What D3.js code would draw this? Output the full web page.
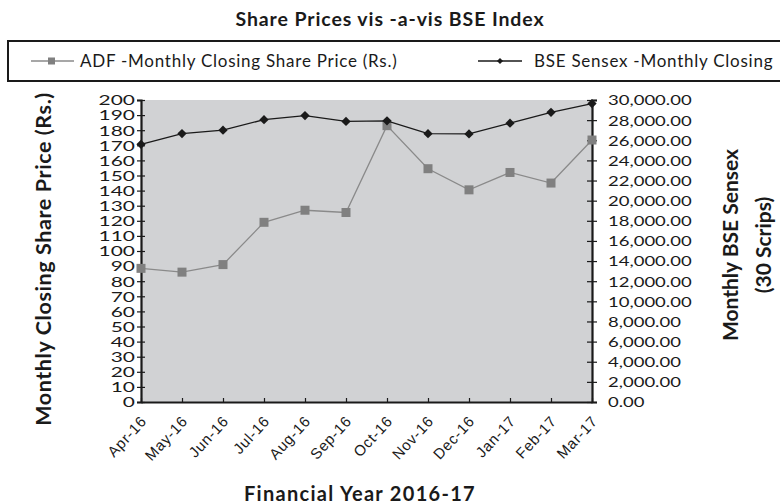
<!DOCTYPE html>
<html>
    <head>
        <meta charset="utf-8">
        <title>Share Prices vis-a-vis BSE Index</title>
        <style type="text/css">
            body {
                margin: 0;
                background-color: #ffffff;
            }

            svg {
                display: block;
            }

            .title, .axis-title {
                font-family: Lato, "Open Sans", sans-serif;
                font-weight: 700;
                fill: #1a1a1a;
            }

            .legend text {
                font-family: Lato, "Open Sans", sans-serif;
                font-size: 17px;
                letter-spacing: 0.75px;
                fill: #1a1a1a;
            }

            .yaxis text {
                font-family: Lato, "Open Sans", sans-serif;
                font-size: 13.5px;
                fill: #1a1a1a;
            }

            .xaxis text {
                font-family: "Liberation Sans", Arial, sans-serif;
                font-size: 15px;
                letter-spacing: 0.7px;
                fill: #1a1a1a;
            }
        </style>

        <script src="https://d3js.org/d3.v7.min.js"></script>
    </head>

    <body>
        <svg id="chart" width="780" height="504"></svg>

        <script>

            const months = ["Apr-16", "May-16", "Jun-16", "Jul-16", "Aug-16", "Sep-16",
                            "Oct-16", "Nov-16", "Dec-16", "Jan-17", "Feb-17", "Mar-17"];
            const adfPrice = [88.5, 86, 91, 119, 127, 125.5, 183, 154.5, 140.5, 152, 145, 173.5];
            const bseSensex = [25600, 26670, 27000, 28050, 28450, 27870, 27930, 26650, 26630, 27700, 28780, 29650];
            const leftTicks = d3.range(0, 201, 10);
            const rightTicks = d3.range(0, 30001, 2000);

            const svg = d3.select("#chart");

            const plot = { left: 141, right: 592, top: 100, bottom: 402 };

            const x = d3.scalePoint()
                .domain(months)
                .range([plot.left, plot.right]);

            const yLeft = d3.scaleLinear()
                .domain([0, 200])
                .range([plot.bottom, plot.top]);

            const yRight = d3.scaleLinear()
                .domain([0, 30000])
                .range([plot.bottom, plot.top]);

            // title
            svg.append("text")
                .attr("class", "title")
                .attr("x", 390)
                .attr("y", 26)
                .attr("text-anchor", "middle")
                .style("font-size", "19.5px")
                .style("letter-spacing", "0.9px")
                .text("Share Prices vis -a-vis  BSE Index");

            // legend box, runs off the right edge like the original
            const legend = svg.append("g").attr("class", "legend");

            legend.append("rect")
                .attr("x", 8)
                .attr("y", 41)
                .attr("width", 800)
                .attr("height", 40)
                .attr("fill", "none")
                .attr("stroke", "#1a1a1a")
                .attr("stroke-width", 2);

            legend.append("line")
                .attr("x1", 31).attr("x2", 74)
                .attr("y1", 61).attr("y2", 61)
                .attr("stroke", "#8a8a8a")
                .attr("stroke-width", 1.5);

            legend.append("rect")
                .attr("x", 48).attr("y", 57.5)
                .attr("width", 7).attr("height", 7)
                .attr("fill", "#808080");

            legend.append("text")
                .attr("x", 80)
                .attr("y", 67)
                .text("ADF -Monthly Closing Share Price (Rs.)");

            legend.append("line")
                .attr("x1", 478).attr("x2", 522)
                .attr("y1", 61).attr("y2", 61)
                .attr("stroke", "#1a1a1a")
                .attr("stroke-width", 1.5);

            legend.append("path")
                .attr("d", d3.symbol(d3.symbolDiamond2, 24)())
                .attr("transform", "translate(500,61)")
                .attr("fill", "#1a1a1a");

            legend.append("text")
                .attr("x", 534)
                .attr("y", 67)
                .text("BSE Sensex -Monthly Closing");

            // plot background
            svg.append("rect")
                .attr("x", plot.left)
                .attr("y", plot.top)
                .attr("width", plot.right - plot.left)
                .attr("height", plot.bottom - plot.top)
                .attr("fill", "#d1d2d4");

            // left axis
            const leftAxis = svg.append("g")
                .attr("class", "yaxis")
                .attr("transform", `translate(${plot.left},0)`)
                .call(d3.axisLeft(yLeft).tickValues(leftTicks).tickSize(4).tickFormat(d3.format("d")));

            // right axis
            const rightAxis = svg.append("g")
                .attr("class", "yaxis")
                .attr("transform", `translate(${plot.right},0)`)
                .call(d3.axisRight(yRight).tickValues(rightTicks).tickSize(5).tickFormat(d3.format(",.2f")));

            [leftAxis, rightAxis].forEach(g => {
                g.select(".domain").attr("stroke", "#1a1a1a").attr("stroke-width", 2.2);
                g.selectAll(".tick line").attr("stroke", "#1a1a1a").attr("stroke-width", 1.2);
            });

            // wide glyphs like the original, stretched from the tick point
            leftAxis.selectAll(".tick text")
                .attr("x", -3.9)
                .attr("dy", "0.36em")
                .attr("transform", "scale(1.55,1)");

            rightAxis.selectAll(".tick text")
                .attr("x", 11.7)
                .attr("dy", "0.36em")
                .attr("transform", "scale(1.37,1)");

            // ticks cross the axis line
            leftAxis.selectAll(".tick").append("line")
                .attr("x2", 4).attr("stroke", "#1a1a1a").attr("stroke-width", 1.2);
            rightAxis.selectAll(".tick").append("line")
                .attr("x2", -5).attr("stroke", "#1a1a1a").attr("stroke-width", 1.2);

            // x axis
            const xAxis = svg.append("g")
                .attr("class", "xaxis")
                .attr("transform", `translate(0,${plot.bottom})`)
                .call(d3.axisBottom(x).tickSize(-4).tickSizeOuter(0));

            xAxis.select(".domain").attr("stroke", "#1a1a1a").attr("stroke-width", 2.2);
            xAxis.selectAll(".tick line").attr("stroke", "#1a1a1a").attr("stroke-width", 1.2);
            xAxis.selectAll(".tick text")
                .attr("x", 0)
                .attr("y", 0)
                .attr("dy", 0)
                .attr("text-anchor", "end")
                .attr("transform", "translate(6,20) rotate(-47)");

            // ADF line
            const adfLine = d3.line()
                .x((d, i) => x(months[i]))
                .y(d => yLeft(d));

            svg.append("path")
                .datum(adfPrice)
                .attr("d", adfLine)
                .attr("fill", "none")
                .attr("stroke", "#8a8a8a")
                .attr("stroke-width", 1.3);

            svg.selectAll("rect.adf")
                .data(adfPrice)
                .join("rect")
                .attr("class", "adf")
                .attr("x", (d, i) => x(months[i]) - 4.5)
                .attr("y", d => yLeft(d) - 4.5)
                .attr("width", 9)
                .attr("height", 9)
                .attr("fill", "#808080");

            // BSE line
            const bseLine = d3.line()
                .x((d, i) => x(months[i]))
                .y(d => yRight(d));

            svg.append("path")
                .datum(bseSensex)
                .attr("d", bseLine)
                .attr("fill", "none")
                .attr("stroke", "#1a1a1a")
                .attr("stroke-width", 1.3);

            svg.selectAll("path.bse")
                .data(bseSensex)
                .join("path")
                .attr("class", "bse")
                .attr("d", d3.symbol(d3.symbolDiamond2, 55)())
                .attr("transform", (d, i) => `translate(${x(months[i])},${yRight(d)})`)
                .attr("fill", "#1a1a1a");

            // axis titles
            svg.append("text")
                .attr("class", "axis-title")
                .attr("transform", "translate(51,259) rotate(-90)")
                .attr("text-anchor", "middle")
                .style("font-size", "21.5px")
                .style("letter-spacing", "0.6px")
                .text("Monthly Closing Share Price (Rs.)");

            svg.append("text")
                .attr("class", "axis-title")
                .attr("transform", "translate(738,245) rotate(-90)")
                .attr("text-anchor", "middle")
                .style("font-size", "21px")
                .text("Monthly BSE Sensex");

            svg.append("text")
                .attr("class", "axis-title")
                .attr("transform", "translate(771,245) rotate(-90)")
                .attr("text-anchor", "middle")
                .style("font-size", "21px")
                .text("(30 Scrips)");

            svg.append("text")
                .attr("class", "axis-title")
                .attr("x", 360)
                .attr("y", 501)
                .attr("text-anchor", "middle")
                .style("font-size", "20px")
                .style("letter-spacing", "1.3px")
                .text("Financial Year 2016-17");

        </script>
    </body>
</html>
